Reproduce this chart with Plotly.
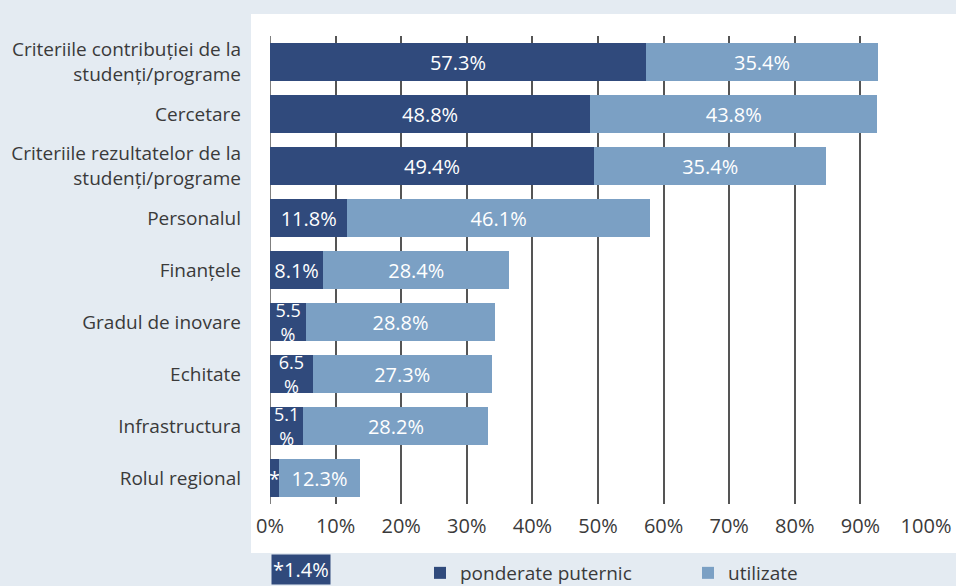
import plotly.graph_objects as go

categories = [
    "Criteriile contribuției de la<br>studenți/programe",
    "Cercetare",
    "Criteriile rezultatelor de la<br>studenți/programe",
    "Personalul",
    "Finanțele",
    "Gradul de inovare",
    "Echitate",
    "Infrastructura",
    "Rolul regional",
]
ponderate = [57.3, 48.8, 49.4, 11.8, 8.1, 5.5, 6.5, 5.1, 1.4]
utilizate = [35.4, 43.8, 35.4, 46.1, 28.4, 28.8, 27.3, 28.2, 12.3]
ponderate_labels = ["57.3%", "48.8%", "49.4%", "11.8%", "8.1%", "5.5<br>%", "6.5<br>%", "5.1<br>%", "*"]
utilizate_labels = ["35.4%", "43.8%", "35.4%", "46.1%", "28.4%", "28.8%", "27.3%", "28.2%", "12.3%"]
x_ticks = [0, 10, 20, 30, 40, 50, 60, 70, 80, 90, 100]
x_tick_labels = ["0%", "10%", "20%", "30%", "40%", "50%", "60%", "70%", "80%", "90%", "100%"]
footnote = "*1.4%"

DARK = "#304a7c"
LIGHT = "#7ba0c4"
BG = "#e4ebf2"
TXT = "#3a3a3a"
FONT = "Open Sans"

dark_sizes = [18 if "<br>" in t else 20 for t in ponderate_labels]

fig = go.Figure()
fig.add_trace(go.Bar(
    y=categories, x=ponderate, orientation="h", name="ponderate puternic",
    marker=dict(color=DARK, line=dict(width=0)),
    text=ponderate_labels, textposition="inside", insidetextanchor="middle",
    textangle=0, constraintext="none",
    textfont=dict(color="white", size=dark_sizes, family=FONT),
    hoverinfo="x+y", legend="legend",
))
fig.add_trace(go.Bar(
    y=categories, x=utilizate, orientation="h", name="utilizate",
    marker=dict(color=LIGHT, line=dict(width=0)),
    text=utilizate_labels, textposition="inside", insidetextanchor="middle",
    textangle=0, constraintext="none",
    textfont=dict(color="white", size=20, family=FONT),
    hoverinfo="x+y", legend="legend2",
))

L, R, T, B = 270, 30, 36, 82
W, H = 956, 586
pw, ph = W - L - R, H - T - B

def px_x(p):
    return (p - L) / pw

def px_y(p):
    return (H - B - p) / ph

fig.add_shape(type="rect", xref="paper", yref="paper",
              x0=px_x(251), x1=px_x(960), y0=px_y(553), y1=px_y(14),
              fillcolor="white", line=dict(width=0), layer="below")

fig.add_annotation(xref="paper", yref="paper", x=px_x(271), y=px_y(569),
                   xanchor="left", yanchor="middle", text=footnote, showarrow=False,
                   font=dict(color="white", size=20, family=FONT),
                   bgcolor=DARK, borderpad=1)

legend_common = dict(orientation="h", yanchor="middle", xanchor="left",
                     bgcolor="rgba(0,0,0,0)", font=dict(size=19, color=TXT, family=FONT))

fig.update_layout(
    width=W, height=H,
    barmode="stack", bargap=0.26,
    paper_bgcolor=BG, plot_bgcolor="white",
    margin=dict(l=L, r=R, t=T, b=B, autoexpand=False),
    font=dict(family=FONT, size=19, color=TXT),
    showlegend=True,
    legend=dict(x=px_x(420), y=px_y(573), **legend_common),
    legend2=dict(x=px_x(688), y=px_y(573), **legend_common),
    xaxis=dict(range=[0, 100], tickvals=x_ticks, ticktext=x_tick_labels,
               showgrid=True, gridcolor="#555555", gridwidth=1.5,
               zeroline=False, showline=False, ticks="", ticklabelstandoff=8,
               tickfont=dict(size=20, color=TXT), fixedrange=True, automargin=False),
    yaxis=dict(categoryorder="array", categoryarray=categories,
               range=[8.5, -0.5], showgrid=False, zeroline=False, showline=False,
               ticks="", ticklabelstandoff=28, tickfont=dict(size=19, color=TXT),
               automargin=False),
)
fig.add_vline(x=0, line=dict(color="#555555", width=1.5), layer="below")

fig.write_html("out.html", config={"displayModeBar": False},
               post_script="document.body.style.margin='0';document.body.style.padding='0';document.body.style.overflow='hidden';")
